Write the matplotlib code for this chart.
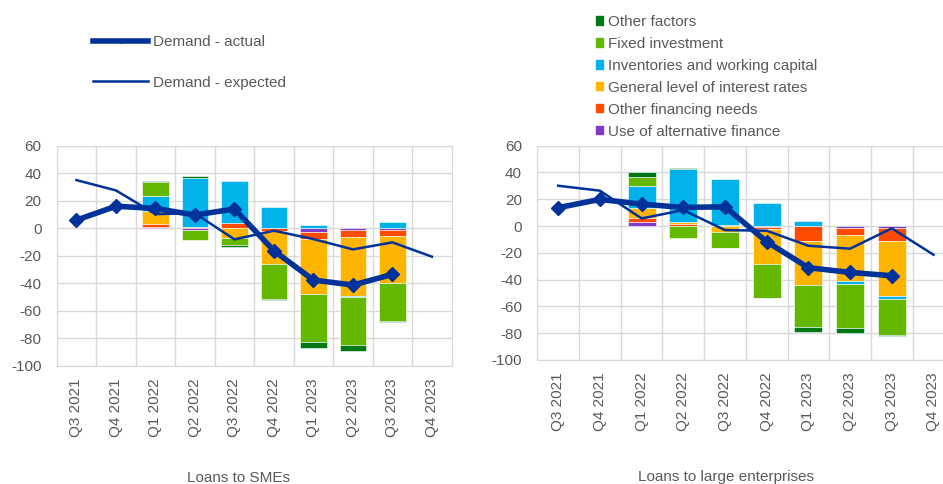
import numpy as np
import matplotlib
matplotlib.use('Agg')
import matplotlib.pyplot as plt
from matplotlib.patches import Patch
from matplotlib.lines import Line2D

plt.rcParams['font.family'] = ['Liberation Sans', 'DejaVu Sans']
plt.rcParams['font.size'] = 11
plt.rcParams['axes.unicode_minus'] = False

quarters = ['Q3 2021', 'Q4 2021', 'Q1 2022', 'Q2 2022', 'Q3 2022',
            'Q4 2022', 'Q1 2023', 'Q2 2023', 'Q3 2023', 'Q4 2023']
nan = np.nan

# contributions, SMEs (stacking order: bottom first)
sme_alt_finance = [nan, nan, 1.2, -1.2, 0.0, 0.0, -2.5, -1.3, -1.0, nan]
sme_other_fin = [nan, nan, 1.8, 1.2, 4.0, -2.0, -5.4, -4.9, -4.5, nan]
sme_interest = [nan, nan, 9.6, 0.0, -6.9, -24.3, -39.6, -42.8, -34.1, nan]
sme_inventories = [nan, nan, 10.7, 35.1, 30.5, 15.4, 2.0, -0.8, 4.4, nan]
sme_fixed_inv = [nan, nan, 10.6, -7.4, -5.4, -25.5, -35.5, -35.2, -28.2, nan]
sme_other = [nan, nan, 0.7, 1.5, -1.2, -0.4, -4.0, -4.0, -0.4, nan]
sme_actual = [5.9, 16.0, 14.4, 9.6, 14.0, -16.4, -37.7, -41.3, -33.6, nan]
sme_expected = [35.0, 27.5, 10.3, 10.8, -8.1, -1.8, -7.9, -15.4, -10.3, -20.7]

# contributions, large enterprises
le_alt_finance = [nan, nan, 2.8, 0.0, 0.0, -0.5, 0.0, -1.7, -1.2, nan]
le_other_fin = [nan, nan, 2.9, 1.5, 0.8, -2.0, -11.0, -5.0, -10.0, nan]
le_interest = [nan, nan, 8.0, 1.2, -4.2, -26.1, -32.8, -34.6, -40.8, nan]
le_inventories = [nan, nan, 15.9, 39.6, 34.5, 16.9, 4.0, -1.7, -2.7, nan]
le_fixed_inv = [nan, nan, 7.0, -9.2, -12.2, -24.9, -31.6, -33.4, -26.6, nan]
le_other = [nan, nan, 3.9, 1.0, -0.3, -0.5, -3.5, -3.7, -0.8, nan]
le_actual = [13.7, 19.9, 16.4, 13.9, 14.4, -11.7, -31.1, -34.6, -37.1, nan]
le_expected = [30.1, 26.4, 5.7, 11.9, -3.0, -3.5, -14.7, -16.9, -1.7, -21.4]

names = ['Use of alternative finance', 'Other financing needs',
         'General level of interest rates', 'Inventories and working capital',
         'Fixed investment', 'Other factors']
colors = ['#8139C6', '#FF4B00', '#FFB400', '#00B1EA', '#65B800', '#007816']
navy = '#003299'
grey = '#595959'
gridc = '#D9D9D9'


def draw(ax, series, actual, expected):
    x = np.arange(len(quarters))
    pos = np.zeros(len(x))
    neg = np.zeros(len(x))
    for vals, c in zip(series, colors):
        v = np.nan_to_num(np.array(vals, dtype=float))
        bottom = np.where(v >= 0, pos, neg)
        m = v != 0
        ax.bar(x[m], v[m], 0.67, bottom=bottom[m], color=c, edgecolor='white',
               linewidth=0.4, zorder=2)
        pos = pos + np.clip(v, 0, None)
        neg = neg + np.clip(v, None, 0)
    ax.plot(x, expected, color=navy, lw=1.8, zorder=3)
    ax.plot(x, actual, color=navy, lw=4, marker='D', ms=7, zorder=4)

    ax.set_xlim(-0.5, len(x) - 0.5)
    ax.set_ylim(-100, 60)
    ax.set_yticks(np.arange(-100, 61, 20))
    ax.set_xticks(x)
    ax.set_xticklabels(quarters, rotation=90)
    ax.set_xticks(np.arange(-0.5, len(x)), minor=True)
    ax.grid(axis='y', color=gridc, lw=1, zorder=0)
    ax.grid(axis='x', which='minor', color=gridc, lw=1, zorder=0)
    ax.tick_params(which='both', length=0, colors=grey, labelsize=11)
    ax.tick_params(axis='y', pad=11)
    ax.tick_params(axis='x', pad=9)
    for s in ax.spines.values():
        s.set_color(gridc)
    ax.set_axisbelow(True)


fig = plt.figure(figsize=(9.43, 4.84), dpi=100)
ax1 = fig.add_axes([0.0601, 0.2444, 0.4189, 0.4545])
ax2 = fig.add_axes([0.5698, 0.2562, 0.4422, 0.4428])

draw(ax1, [sme_alt_finance, sme_other_fin, sme_interest, sme_inventories,
           sme_fixed_inv, sme_other], sme_actual, sme_expected)
draw(ax2, [le_alt_finance, le_other_fin, le_interest, le_inventories,
           le_fixed_inv, le_other], le_actual, le_expected)

fig.text(238 / 943, 1 - 478 / 484, 'Loans to SMEs', ha='center', va='center',
         color=grey, fontsize=11)
fig.text(726 / 943, 1 - 477 / 484, 'Loans to large enterprises', ha='center',
         va='center', color=grey, fontsize=11)

# line legend
line_handles = [Line2D([], [], color=navy, lw=4, marker='D', ms=2),
                Line2D([], [], color=navy, lw=1.8)]
fig.legend(line_handles, ['Demand - actual', 'Demand - expected'],
           loc='upper left', bbox_to_anchor=(93 / 943, 1 - 35 / 484),
           frameon=False, borderpad=0, borderaxespad=0, handlelength=3.6,
           handletextpad=0.3, labelspacing=1.75, labelcolor=grey, fontsize=11)

# factor legend
patch_handles = [Patch(color=c) for c in colors][::-1]
fig.legend(patch_handles, names[::-1], loc='upper left',
           bbox_to_anchor=(596 / 943, 1 - 15 / 484), frameon=False,
           borderpad=0, borderaxespad=0, handlelength=0.45, handleheight=0.45,
           handletextpad=0.35, labelspacing=0.52, labelcolor=grey, fontsize=11)

fig.savefig('out.png', dpi=100)
